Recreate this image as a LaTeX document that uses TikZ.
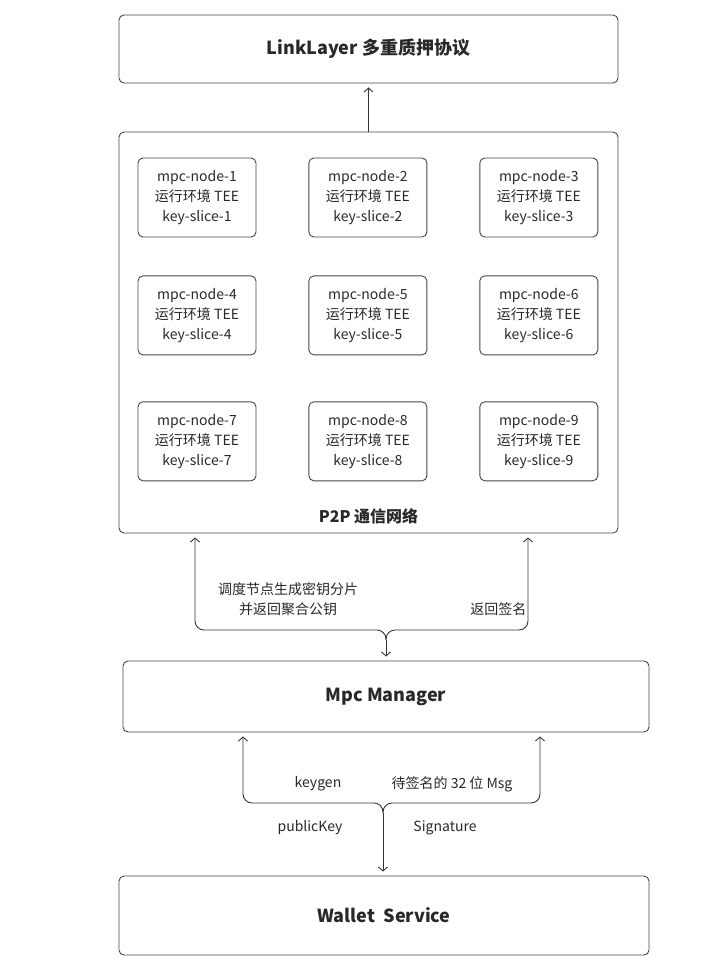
\documentclass[tikz,border=0pt]{standalone}
\usepackage{fontspec}
\setmainfont{Noto Sans CJK SC}
\usepackage{tikz}
\usetikzlibrary{
    positioning,
    arrows.meta
}
\definecolor{BoxGray}{RGB}{70,70,70}
\definecolor{TextDark}{RGB}{40,40,40}
\definecolor{LineGray}{RGB}{55,55,55}

\begin{document}
\begin{tikzpicture}[
    x=1pt, y=-1pt,
    box/.style={rectangle, draw=BoxGray, line width=0.9pt, rounded corners=5pt, align=center, text=TextDark},
    title/.style={font=\fontsize{18}{22}\selectfont\bfseries, text=TextDark},
    slice/.style={box, minimum width=118pt, minimum height=79pt, font=\fontsize{14}{20}\selectfont},
    arr/.style={line width=0.9pt, color=LineGray, -{Straight Barb[length=4pt, width=9pt]}, shorten >=4pt},
    lbl/.style={font=\fontsize{14}{20}\selectfont, text=TextDark, align=center},
]
\useasboundingbox (0,0) rectangle (720,972);

% outer layers
\node[box, title, minimum width=499pt, minimum height=68pt] (link) at (368.5,49) {LinkLayer 多重质押协议};
\node[box, minimum width=499pt, minimum height=401pt] (p2p) at (368.5,332.5) {};
\node[title, font=\fontsize{16}{20}\selectfont\bfseries, above=6pt of p2p.south] (p2plbl) {P2P 通信网络};
\node[box, title, minimum width=526pt, minimum height=71pt] (mpc) at (386,696.5) {Mpc Manager};
\node[box, title, minimum width=530pt, minimum height=79pt] (wallet) at (384,915.5) {Wallet\ \ Service};

% mpc nodes
\node[slice] (n1) at (197,197.5) {mpc-node-1\\运行环境 TEE\\key-slice-1};
\node[slice, right=52pt of n1] (n2) {mpc-node-2\\运行环境 TEE\\key-slice-2};
\node[slice, right=52pt of n2] (n3) {mpc-node-3\\运行环境 TEE\\key-slice-3};
\node[slice, below=38pt of n1] (n4) {mpc-node-4\\运行环境 TEE\\key-slice-4};
\node[slice, right=52pt of n4] (n5) {mpc-node-5\\运行环境 TEE\\key-slice-5};
\node[slice, right=52pt of n5] (n6) {mpc-node-6\\运行环境 TEE\\key-slice-6};
\node[slice, below=46pt of n4] (n7) {mpc-node-7\\运行环境 TEE\\key-slice-7};
\node[slice, right=52pt of n7] (n8) {mpc-node-8\\运行环境 TEE\\key-slice-8};
\node[slice, right=52pt of n8] (n9) {mpc-node-9\\运行环境 TEE\\key-slice-9};

\draw[arr] (p2p.north) -- (link.south);

% p2p <-> mpc manager
\coordinate (j1) at (386,640);
\coordinate (l1) at (195,630);
\coordinate (r1) at (528,630);
\draw[arr, rounded corners=9pt] (j1) |- (l1) -- (l1 |- p2p.south);
\draw[arr, rounded corners=9pt] (j1) |- (r1) -- (r1 |- p2p.south);
\draw[arr] (j1) -- (j1 |- mpc.north);
\node[lbl] (keylbl) at (288,599) {调度节点生成密钥分片\\并返回聚合公钥};
\node[lbl, anchor=east] (siglbl) at (530,609) {返回签名};

% mpc manager <-> wallet
\coordinate (j2) at (383,813);
\coordinate (l2) at (243,803);
\coordinate (r2) at (540,803);
\draw[arr, rounded corners=9pt] (j2) |- (l2) -- (l2 |- mpc.south);
\draw[arr, rounded corners=9pt] (j2) |- (r2) -- (r2 |- mpc.south);
\draw[arr] (j2) -- (j2 |- wallet.north);
\node[lbl] (genlbl) at (318,784) {keygen};
\node[lbl] (msglbl) at (452,784) {待签名的 32 位 Msg};
\node[lbl] (publbl) at (310,828) {publicKey};
\node[lbl] (sgnlbl) at (445,828) {Signature};
\end{tikzpicture}
\end{document}
